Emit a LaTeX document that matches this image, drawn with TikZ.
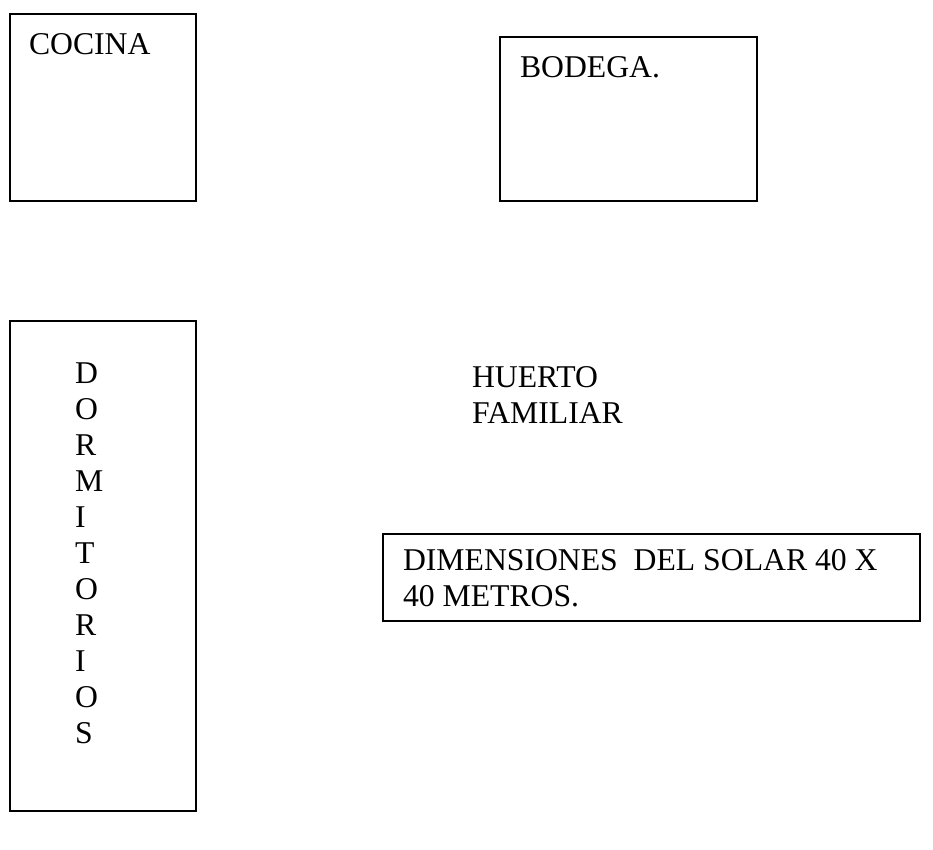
\documentclass[tikz,border=0pt]{standalone}
\usepackage{fontspec}
\setmainfont{Liberation Serif}
\begin{document}
\begin{tikzpicture}[x=1pt,y=-1pt,
  roombox/.style={draw=black,line width=1.8pt,fill=none},
  lbl/.style={inner sep=0pt,outer sep=0pt,anchor=base west,font=\fontsize{31.7}{36}\selectfont}]
\useasboundingbox (0,0) rectangle (933,849);
% rooms
\draw[roombox] (10,14) rectangle (196,201);
\node[lbl] (cocina) at (29,54) {COCINA};
\draw[roombox] (500,37) rectangle (757,201);
\node[lbl] (bodega) at (520,77) {BODEGA.};
\draw[roombox] (10,321) rectangle (196,811);
\foreach \ch [count=\i from 0] in {D,O,R,M,I,T,O,R,I,O,S}{
  \node[lbl] (dorm\i) at (75,383+36*\i) {\ch};
}
\node[lbl] (huerto1) at (472,387) {HUERTO};
\node[lbl] (huerto2) at (472,423) {FAMILIAR};
\draw[roombox] (383,534) rectangle (920,621);
\node[lbl] (dim1) at (403,570) {DIMENSIONES\ \ DEL SOLAR 40 X};
\node[lbl] (dim2) at (403,606) {40 METROS.};
\end{tikzpicture}
\end{document}
